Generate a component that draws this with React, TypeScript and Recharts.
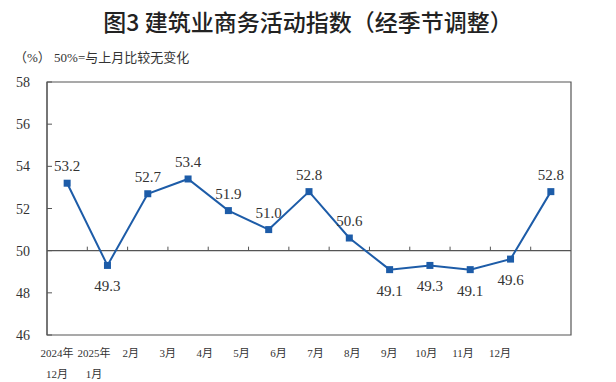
import { Line, LineChart, ReferenceArea, ReferenceLine, XAxis, YAxis } from 'recharts';

const months = [
  '2024年\n12月',
  '2025年\n1月',
  '2月',
  '3月',
  '4月',
  '5月',
  '6月',
  '7月',
  '8月',
  '9月',
  '10月',
  '11月',
  '12月',
];
const values = [53.2, 49.3, 52.7, 53.4, 51.9, 51.0, 52.8, 50.6, 49.1, 49.3, 49.1, 49.6, 52.8];
const labelSide = ['up', 'down', 'up', 'up', 'up', 'up', 'up', 'up', 'down', 'down', 'down', 'down', 'up'];
const yTicks = [46, 48, 50, 52, 54, 56, 58];

const data = months.map((month, i) => ({ month, value: values[i] }));

const SERIF = "'Liberation Serif', 'Times New Roman', 'Noto Sans CJK SC', serif";
const INK = '#333';
const BLUE = '#1d5ca8';

function MonthTick(props: any) {
  const { x, y, payload } = props;
  const lines = String(payload.value).split('\n');
  return (
    <text x={x} y={y} textAnchor="middle" fill={INK} fontSize={11} fontFamily={SERIF}>
      {lines.map((l, i) => (
        <tspan key={i} x={x} y={y + 22 + i * 21}>
          {l}
        </tspan>
      ))}
    </text>
  );
}

function ValueTick(props: any) {
  const { x, y, payload } = props;
  return (
    <text x={x} y={y} dy={5} textAnchor="end" fill={INK} fontSize={14} fontFamily={SERIF}>
      {payload.value}
    </text>
  );
}

function SquareDot(props: any) {
  const { cx, cy } = props;
  if (cx == null || cy == null) return null;
  return <rect x={cx - 3.5} y={cy - 3.5} width={7} height={7} fill={BLUE} />;
}

function ValueLabel(props: any) {
  const { x, y, index, value } = props;
  const up = labelSide[index] === 'up';
  return (
    <text x={x} y={up ? y - 12 : y + 26} textAnchor="middle" fill={INK} fontSize={15} fontFamily={SERIF}>
      {Number(value).toFixed(1)}
    </text>
  );
}

function MidLine(props: any) {
  const { x1, y1, x2, y2 } = props;
  const n = months.length;
  const step = (x2 - x1) / n;
  return (
    <g>
      <line x1={x1} y1={y1} x2={x2} y2={y2} stroke="#555" strokeWidth={1.2} />
      {months.slice(1).map((_, i) => (
        <line key={i} x1={x1 + step * (i + 1)} y1={y1} x2={x1 + step * (i + 1)} y2={y1 - 4} stroke="#555" strokeWidth={1} />
      ))}
    </g>
  );
}

export default function App() {
  return (
    <div style={{ position: 'absolute', left: 0, top: 0, width: 616, height: 382, background: '#fff' }}>
      <div
        style={{
          position: 'absolute',
          left: 0,
          top: 6,
          width: 616,
          textAlign: 'center',
          fontFamily: "'Noto Sans CJK SC', sans-serif",
          fontWeight: 500,
          fontSize: 23,
          color: '#222',
          lineHeight: '30px',
        }}
      >
        图3 建筑业商务活动指数（经季节调整）
      </div>
      <div
        style={{
          position: 'absolute',
          left: 14,
          top: 49,
          fontFamily: SERIF,
          fontSize: 13,
          color: INK,
          whiteSpace: 'pre',
          lineHeight: '18px',
        }}
      >
        （%） 50%=与上月比较无变化
      </div>
      <LineChart width={616} height={382} data={data} margin={{ top: 82, right: 45, left: 0, bottom: 7 }}>
        <XAxis xAxisId="main" dataKey="month" scale="band" hide />
        <XAxis
          xAxisId="lbl"
          dataKey="month"
          scale="point"
          padding={{ left: 10, right: 71 }}
          axisLine={false}
          tickLine={false}
          tickSize={0}
          tickMargin={0}
          interval={0}
          height={40}
          tick={<MonthTick />}
        />
        <YAxis
          domain={[46, 58]}
          ticks={yTicks}
          width={47}
          axisLine={{ stroke: '#555' }}
          tickLine={{ stroke: '#555' }}
          tickSize={-5}
          tickMargin={22}
          tick={<ValueTick />}
        />
        <ReferenceArea xAxisId="main" y1={46} y2={58} fill="none" stroke="#555" strokeWidth={1.2} ifOverflow="visible" />
        <ReferenceLine xAxisId="main" y={50} shape={<MidLine />} />
        <Line
          xAxisId="main"
          type="linear"
          dataKey="value"
          stroke={BLUE}
          strokeWidth={2}
          dot={<SquareDot />}
          activeDot={false}
          label={<ValueLabel />}
          isAnimationActive={false}
        />
      </LineChart>
    </div>
  );
}
